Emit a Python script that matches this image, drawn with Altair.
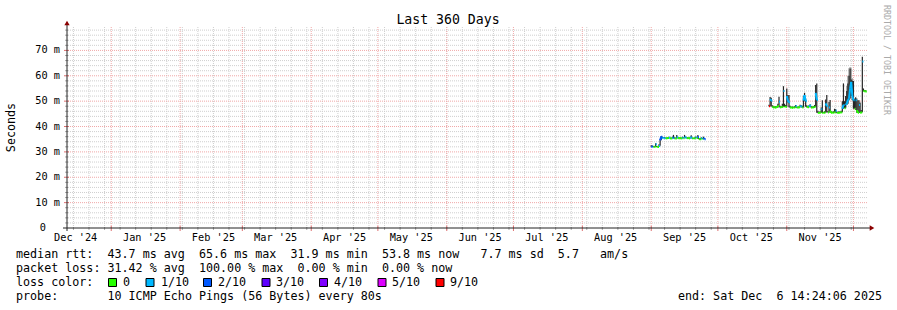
import altair as alt
import pandas as pd

# ---------------- data ----------------
SEG1_START = "2025-09-01 00:00"
SEG2_START = "2025-10-24 00:00"

seg1_median = [32.2, 32.0, 31.9, 32.0, 33.0, 32.0, 31.9, 32.4, 34.6, 36.0,
               35.6, 35.4, 35.5, 35.3, 35.4, 35.5, 35.6, 35.4, 35.3, 35.6,
               35.5, 35.4, 35.3, 35.8, 35.5, 35.4, 35.5, 35.3, 35.6, 35.4,
               35.9, 35.6, 35.4, 35.5, 35.3, 35.6, 35.7, 35.4, 35.2, 35.4,
               35.7, 35.5, 35.9, 35.1, 35.0, 35.4, 35.2, 35.5, 35.0]
seg1_loss = [2, 2, 0, 0, 1, 0, 0, 1, 2, 2,
             1, 1, 1, 0, 0, 0, 1, 0, 0, 1,
             2, 0, 0, 1, 0, 0, 0, 0, 1, 0,
             1, 1, 0, 0, 0, 1, 1, 0, 0, 0,
             1, 0, 2, 0, 0, 1, 0, 2, 2]
seg1_smoke = [32.6, 32.5, 32.2, 32.3, 33.4, 32.3, 32.2, 33.0, 35.0, 36.3,
              36.0, 35.8, 35.9, 35.6, 35.7, 35.8, 36.0, 35.7, 35.6, 36.0,
              36.7, 35.7, 35.6, 36.7, 35.8, 35.7, 35.8, 35.6, 36.0, 35.7,
              36.7, 36.0, 35.7, 35.8, 35.6, 36.0, 36.6, 35.7, 35.5, 35.7,
              36.1, 35.8, 36.7, 35.5, 35.4, 35.8, 35.5, 36.0, 35.4]

seg2_median = [48.0, 50.8, 50.2, 47.9, 47.6, 47.4, 47.6, 47.5, 48.1, 49.8,
               47.6, 47.5, 47.8, 54.0, 48.0, 47.7, 52.0, 50.2, 49.5, 47.6,
               47.4, 47.5, 47.3, 47.6, 48.1, 47.5, 47.4, 47.6, 48.2, 47.9,
               47.5, 50.2, 52.4, 50.0, 47.8, 47.6, 47.9, 48.3, 47.6, 47.4,
               47.5, 47.8, 53.3, 50.5, 45.4, 45.3, 45.5, 46.8, 45.4, 45.3,
               45.5, 49.1, 48.0, 45.5, 47.5, 46.2, 45.4, 45.3, 45.5, 45.6,
               46.2, 45.4, 45.3, 45.5, 45.4, 45.6, 47.0, 48.5, 47.2, 48.5,
               49.0, 50.4, 51.0, 55.0, 57.6, 52.0, 50.4, 47.0, 50.4, 46.5,
               45.4, 48.5, 45.3, 45.6, 65.6, 54.2, 53.9, 53.8]
seg2_loss = [9, 1, 1, 0, 0, 0, 0, 0, 0, 1,
             0, 0, 0, 1, 0, 0, 1, 1, 1, 0,
             0, 0, 0, 0, 1, 0, 0, 0, 1, 1,
             0, 1, 1, 1, 0, 0, 1, 1, 0, 0,
             0, 0, 1, 1, 0, 0, 0, 1, 0, 0,
             0, 1, 1, 0, 1, 0, 0, 0, 0, 0,
             1, 0, 0, 0, 0, 0, 1, 1, 0, 1,
             1, 1, 1, 1, 1, 1, 1, 0, 1, 0,
             0, 1, 0, 0, 1, 0, 0, 0]
seg2_smoke = [48.6, 51.6, 51.3, 48.4, 48.0, 47.9, 48.0, 48.0, 49.0, 51.7,
              48.2, 48.0, 49.0, 55.9, 49.0, 48.5, 55.0, 52.4, 52.4, 48.2,
              47.8, 47.9, 47.8, 48.0, 48.5, 47.9, 47.8, 48.0, 48.6, 48.4,
              48.2, 52.0, 53.3, 51.0, 48.4, 48.0, 48.4, 48.8, 48.1, 47.9,
              48.0, 48.5, 56.4, 57.0, 46.2, 45.8, 46.0, 47.5, 50.4, 45.8,
              46.0, 50.7, 52.4, 46.1, 49.7, 50.5, 46.0, 45.8, 46.0, 47.0,
              46.8, 45.9, 45.8, 46.0, 45.9, 46.2, 50.0, 57.0, 50.0, 52.0,
              54.0, 57.0, 60.0, 62.9, 58.5, 58.0, 58.0, 51.0, 51.5, 51.0,
              50.4, 50.4, 49.5, 46.5, 67.5, 55.0, 54.4, 54.3]
seg2_smoke_outer = [None] * 70 + [56.0, 60.0, 63.0, 63.5, 63.0, 59.0] + [None] * 12

loss_codes = [0, 1, 2, 3, 4, 5, 9]
loss_labels = ["0", "1/10", "2/10", "3/10", "4/10", "5/10", "9/10"]
loss_colors = ["#26ff00", "#00b8ff", "#0059ff", "#5e00ff", "#7e00ff", "#dd00ff", "#ff0000"]

y_label_values = [0, 10, 20, 30, 40, 50, 60, 70]
y_label_texts = ["0", "10 m", "20 m", "30 m", "40 m", "50 m", "60 m", "70 m"]
y_major_grid = [10, 20, 30, 40, 50, 60, 70]
y_minor_grid = [v for v in range(2, 80, 2) if v % 10 != 0]

month_starts = ["2025-01-01", "2025-02-01", "2025-03-01", "2025-04-01", "2025-05-01",
                "2025-06-01", "2025-07-01", "2025-08-01", "2025-09-01", "2025-10-01",
                "2025-11-01", "2025-12-01"]
month_label_dates = ["2024-12-16", "2025-01-16", "2025-02-16", "2025-03-16", "2025-04-16",
                     "2025-05-16", "2025-06-16", "2025-07-16", "2025-08-16", "2025-09-16",
                     "2025-10-16", "2025-11-16"]
month_label_texts = ["Dec '24", "Jan '25", "Feb '25", "Mar '25", "Apr '25", "May '25",
                     "Jun '25", "Jul '25", "Aug '25", "Sep '25", "Oct '25", "Nov '25"]

title_text = "Last 360 Days"
legend_lines = [
    "median rtt:  43.7 ms avg  65.6 ms max  31.9 ms min  53.8 ms now   7.7 ms sd  5.7   am/s",
    "packet loss: 31.42 % avg  100.00 % max  0.00 % min  0.00 % now",
    "loss color:",
    "probe:       10 ICMP Echo Pings (56 Bytes) every 80s",
]
end_text = "end: Sat Dec  6 14:24:06 2025"
watermark = "RRDTOOL / TOBI OETIKER"

# ---------------- frames ----------------
def iso(ts):
    return ts.strftime("%Y-%m-%dT%H:%M:%SZ")

def seg_frame(start, med, loss, smoke, outer=None):
    t = pd.date_range(start, periods=len(med), freq="12h")
    df = pd.DataFrame({"med": med, "loss": loss, "hi": smoke})
    df["t"] = [iso(x) for x in t]
    df["t2"] = [iso(x + pd.Timedelta(hours=12)) for x in t]
    nxt = df["med"].shift(-1)
    same = df["loss"].shift(-1) == df["loss"]
    # like rrdtool: a loss-colour line only joins neighbours of the same colour
    df["med2"] = nxt.where(same, df["med"]).fillna(df["med"])
    # smoke reaches down to the lowest neighbouring median
    df["lo"] = pd.concat([df["med"], df["med"].shift(1), nxt], axis=1).min(axis=1)
    df["outer"] = outer if outer is not None else [None] * len(med)
    return df

data = pd.concat([
    seg_frame(SEG1_START, seg1_median, seg1_loss, seg1_smoke),
    seg_frame(SEG2_START, seg2_median, seg2_loss, seg2_smoke, seg2_smoke_outer),
], ignore_index=True)
outer_df = data.dropna(subset=["outer"])

weeks = pd.DataFrame({"t": [iso(x) for x in pd.date_range("2024-12-15", "2025-11-30", freq="7D")]})
months = pd.DataFrame({"t": [m + "T00:00:00Z" for m in month_starts]})
yminor = pd.DataFrame({"v": y_minor_grid})
ymajor = pd.DataFrame({"v": y_major_grid})
xlabels = pd.DataFrame({"t": [d + "T00:00:00Z" for d in month_label_dates], "lab": month_label_texts})
ylabels = pd.DataFrame({"v": y_label_values, "lab": [s.replace(" ", "\u00a0") for s in y_label_texts]})

# ---------------- scales ----------------
W, H = 800, 201
LEFT, TOP = 67, 27
xscale = alt.Scale(type="utc", domain=[
    alt.DateTime(year=2024, month=12, date=12, hours=2, minutes=24, seconds=6, utc=True),
    alt.DateTime(year=2025, month=12, date=7, hours=2, minutes=24, seconds=6, utc=True)])
yscale = alt.Scale(domain=[0, 79.23], nice=False, zero=False)
FONT = "DejaVu Sans Mono"

GRID = "#cfcfcf"
MGRID = "#f0a8a8"

X = lambda: alt.X("t:T", scale=xscale, axis=None)
Y = lambda f="v:Q": alt.Y(f, scale=yscale, axis=None)

ygrid_minor = alt.Chart(yminor).mark_rule(stroke=GRID, strokeDash=[1, 1], strokeWidth=1).encode(y=Y())
ygrid_major = alt.Chart(ymajor).mark_rule(stroke=MGRID, strokeDash=[1, 1], strokeWidth=1).encode(y=Y())
xgrid_minor = alt.Chart(weeks).mark_rule(stroke=GRID, strokeDash=[1, 1], strokeWidth=1).encode(x=X())
xgrid_major = alt.Chart(months).mark_rule(stroke=MGRID, strokeDash=[1, 1], strokeWidth=1).encode(x=X())

# axis ticks
xtick_minor = alt.Chart(weeks).mark_rule(stroke="#aaaaaa", strokeWidth=1).encode(
    x=X(), y=alt.value(H - 1), y2=alt.value(H + 2))
xtick_major = alt.Chart(months).mark_rule(stroke="#dd7070", strokeWidth=1).encode(
    x=X(), y=alt.value(H - 2), y2=alt.value(H + 3))
ytick_minor = alt.Chart(yminor).mark_rule(stroke="#aaaaaa", strokeWidth=1).encode(
    y=Y(), x=alt.value(-2), x2=alt.value(1))
ytick_major = alt.Chart(ymajor).mark_rule(stroke="#dd7070", strokeWidth=1).encode(
    y=Y(), x=alt.value(-3), x2=alt.value(2))

xlab = alt.Chart(xlabels).mark_text(font=FONT, fontSize=10.25, align="center", baseline="alphabetic",
                                    color="#000").encode(x=X(), y=alt.value(241 - TOP), text="lab:N")
ylab = alt.Chart(ylabels).transform_filter("datum.v > 0").mark_text(
    font=FONT, fontSize=10.25, align="right", baseline="middle", color="#000").encode(
    y=Y(), x=alt.value(60 - LEFT), text="lab:N")
ylab0 = alt.Chart(ylabels).transform_filter("datum.v == 0").mark_text(
    font=FONT, fontSize=10.25, align="right", baseline="middle", color="#000").encode(
    y=Y(), x=alt.value(46 - LEFT), text="lab:N")

smoke_outer = alt.Chart(outer_df).mark_rule(stroke="#a0a0a0", strokeWidth=1.3).encode(
    x=X(), y=Y("lo:Q"), y2="outer:Q")
smoke = alt.Chart(data).mark_rule(stroke="#262626", strokeWidth=1.2).encode(
    x=X(), y=Y("lo:Q"), y2="hi:Q")
median = alt.Chart(data).mark_rule(strokeWidth=2).encode(
    x=X(), x2="t2:T", y=Y("med:Q"), y2="med2:Q",
    color=alt.Color("loss:N", scale=alt.Scale(domain=loss_codes, range=loss_colors), legend=None))

one = alt.Data(values=[{}])

def txt(s, px, py, size=11.7, align="left", color="#000", angle=0, baseline="alphabetic"):
    return alt.Chart(one).mark_text(text=s.replace(" ", "\u00a0"), font=FONT, fontSize=size,
                                    align=align, baseline=baseline, color=color, angle=angle).encode(
        x=alt.value(px - LEFT), y=alt.value(py - TOP))

axis_y_line = alt.Chart(one).mark_rule(stroke="#222", strokeWidth=1).encode(
    x=alt.value(0), y=alt.value(-3), y2=alt.value(H + 3))
axis_x_line = alt.Chart(one).mark_rule(stroke="#222", strokeWidth=1).encode(
    x=alt.value(-4), x2=alt.value(W + 4), y=alt.value(H))
arrow_up = alt.Chart(one).mark_point(shape="triangle-up", filled=True, size=28, color="#8b0000", opacity=1).encode(
    x=alt.value(0), y=alt.value(-4))
arrow_right = alt.Chart(one).mark_point(shape="triangle-right", filled=True, size=28, color="#8b0000", opacity=1).encode(
    x=alt.value(W + 5), y=alt.value(H))

texts = [
    txt(title_text, 448, 24, size=13.2, align="center"),
    txt("Seconds", 15, 127.5, size=11.7, align="center", angle=270),
    txt(watermark, 884, 60, size=8.3, align="center", color="#aaaaaa", angle=90),
    txt(legend_lines[0], 16, 258),
    txt(legend_lines[1], 16, 272),
    txt(legend_lines[2], 16, 286),
    txt(legend_lines[3], 16, 300),
    txt(end_text, 882, 300, align="right"),
]

box_left = [108.5, 146, 203.5, 262, 319.5, 378, 436]
label_left = [123, 161, 218, 276, 334, 392, 450]
boxes = []
for bx, lx, col, lab in zip(box_left, label_left, loss_colors, loss_labels):
    boxes.append(alt.Chart(one).mark_rect(fill=col, stroke="#000", strokeWidth=1).encode(
        x=alt.value(bx - LEFT), x2=alt.value(bx + 8 - LEFT),
        y=alt.value(278.5 - TOP), y2=alt.value(286.5 - TOP)))
    boxes.append(txt(lab, lx, 286))

chart = alt.layer(
    ygrid_minor, xgrid_minor, ygrid_major, xgrid_major,
    smoke_outer, smoke, median,
    xtick_minor, xtick_major, ytick_minor, ytick_major,
    axis_y_line, axis_x_line, arrow_up, arrow_right,
    xlab, ylab, ylab0, *texts, *boxes
).properties(
    width=W, height=H,
    autosize=alt.AutoSizeParams(type="none"),
    padding={"left": LEFT, "top": TOP, "right": 897 - LEFT - W, "bottom": 310 - TOP - H},
    background="#ffffff",
).configure_view(stroke=None)

chart.save("out.html", embed_options={"renderer": "svg", "actions": False})
